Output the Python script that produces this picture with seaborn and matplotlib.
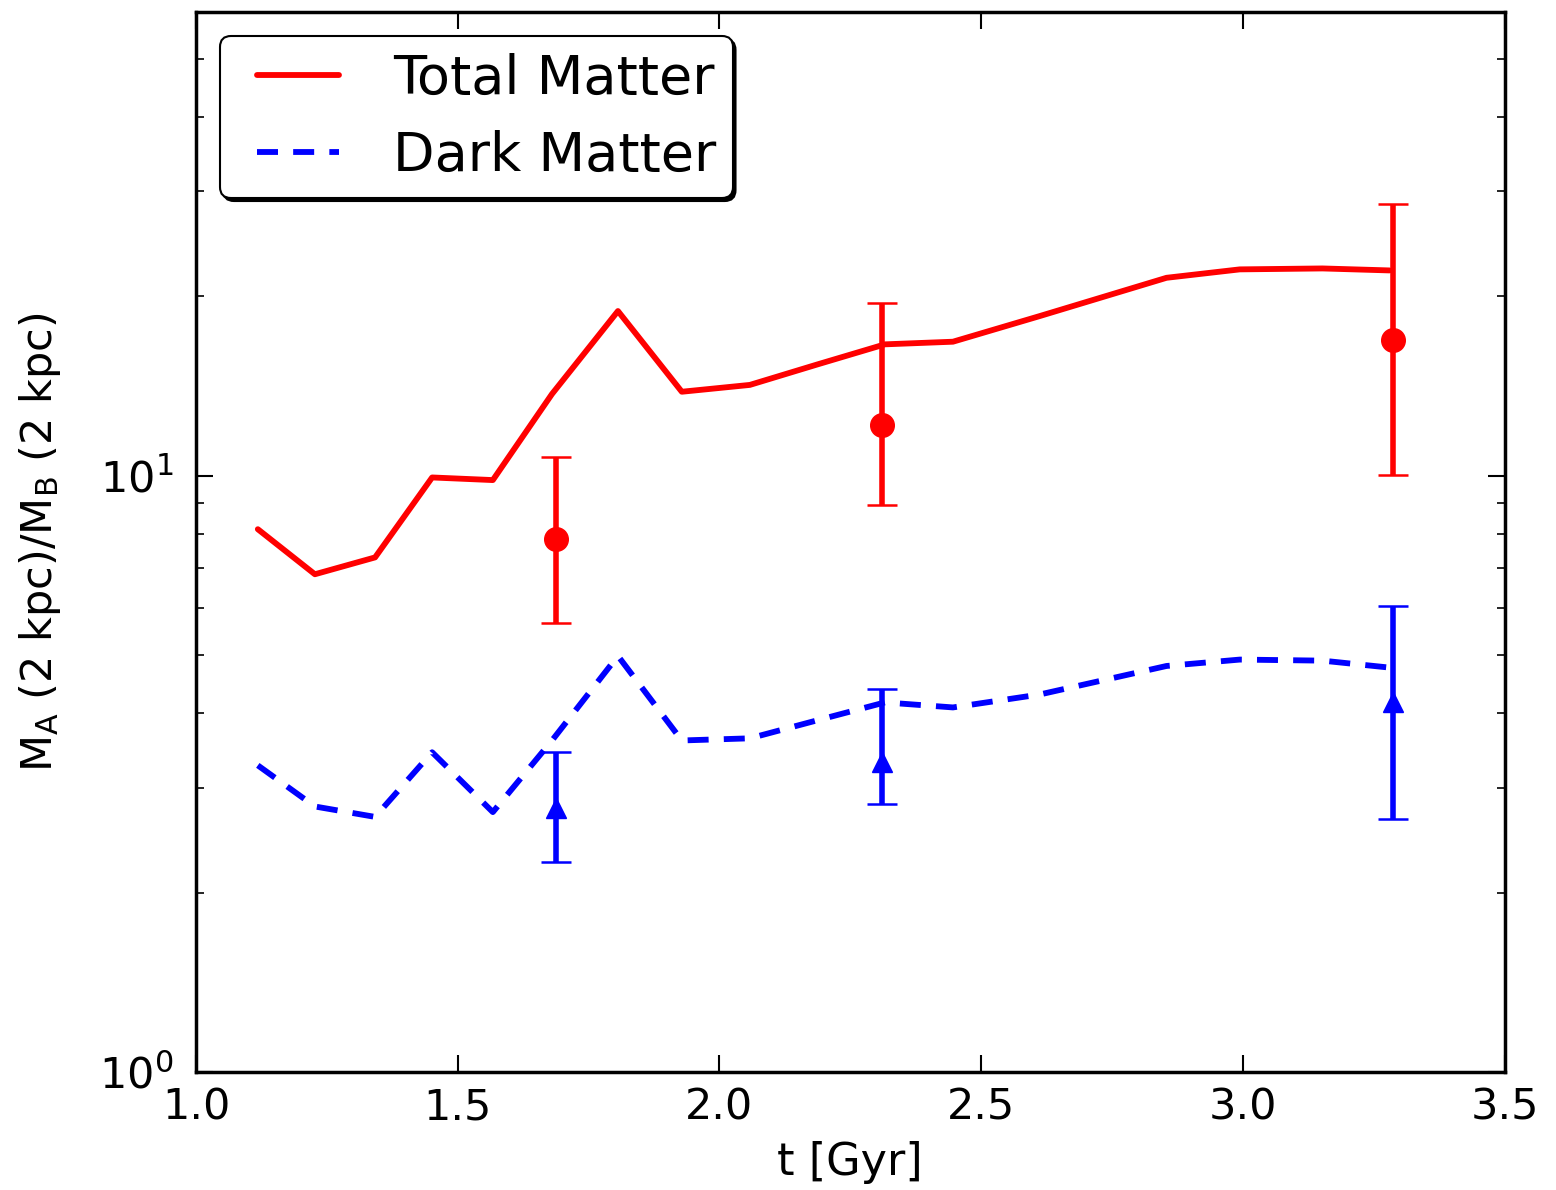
import numpy as np
import pandas as pd
import matplotlib
matplotlib.use("Agg")
import matplotlib.pyplot as plt
from matplotlib.lines import Line2D
from matplotlib.legend_handler import HandlerLine2D
import seaborn as sns

# ---- data ----
t_line = [1.118, 1.227, 1.342, 1.451, 1.567, 1.680, 1.806, 1.928, 2.058, 2.186,
          2.316, 2.446, 2.612, 2.854, 2.994, 3.152, 3.280]
total_matter = [8.14, 6.84, 7.30, 9.94, 9.84, 13.72, 18.90, 13.84, 14.21, 15.37,
                16.62, 16.79, 18.54, 21.49, 22.20, 22.28, 22.11]
dark_matter = [3.27, 2.79, 2.68, 3.44, 2.73, 3.60, 4.99, 3.60, 3.63, 3.89,
               4.17, 4.09, 4.30, 4.80, 4.92, 4.90, 4.77]

t_obs = [1.688, 2.310, 3.286]
tot_obs = [7.84, 12.17, 16.9]
tot_lo = [5.67, 8.94, 10.04]
tot_hi = [10.76, 19.5, 28.6]
dm_obs = [2.77, 3.31, 4.17]
dm_lo = [2.25, 2.82, 2.66]
dm_hi = [3.44, 4.40, 6.06]

sns.set_style("ticks")
plt.rcParams['font.family'] = ['DejaVu Sans']
plt.rcParams['mathtext.default'] = 'regular'
plt.rcParams['text.color'] = 'black'
plt.rcParams['axes.labelcolor'] = 'black'
plt.rcParams['xtick.color'] = 'black'
plt.rcParams['ytick.color'] = 'black'

fig = plt.figure(figsize=(15.56, 11.9), dpi=100)
ax = fig.add_axes([0.126, 0.099, 0.841, 0.891])

df = pd.DataFrame({"t": t_line, "Total Matter": total_matter, "Dark Matter": dark_matter})
sns.lineplot(data=df, x="t", y="Total Matter", ax=ax, color="#ff0000", lw=4.2,
             label="Total Matter", sort=False)
sns.lineplot(data=df, x="t", y="Dark Matter", ax=ax, color="#0000ff", lw=4.2,
             label="Dark Matter", sort=False, dashes=False)
ax.lines[-1].set_dashes((3.6, 2.6))

tot_obs_a = np.array(tot_obs)
dm_obs_a = np.array(dm_obs)
ax.errorbar(t_obs, tot_obs,
            yerr=[tot_obs_a - np.array(tot_lo), np.array(tot_hi) - tot_obs_a],
            fmt='o', color="#ff0000", ms=17, elinewidth=4, capsize=11, capthick=1.8)
ax.errorbar(t_obs, dm_obs,
            yerr=[dm_obs_a - np.array(dm_lo), np.array(dm_hi) - dm_obs_a],
            fmt='^', color="#0000ff", ms=15, elinewidth=4, capsize=11, capthick=1.8)

ax.set_yscale("log")
ax.set_xlim(1.0, 3.5)
ax.set_ylim(1, 60)
ax.set_xticks([1.0, 1.5, 2.0, 2.5, 3.0, 3.5])
ax.set_xticklabels(["1.0", "1.5", "2.0", "2.5", "3.0", "3.5"])

ax.set_xlabel("t [Gyr]", fontsize=32, labelpad=9)
ax.set_ylabel(r"M$_\mathrm{A}$ (2 kpc)/M$_\mathrm{B}$ (2 kpc)", fontsize=31, labelpad=26)

ax.tick_params(axis='both', which='major', direction='in', length=12, width=1.5,
               labelsize=31, top=True, right=True, pad=10, color='black')
ax.tick_params(axis='y', which='major', pad=16)
ax.tick_params(axis='both', which='minor', direction='in', length=6, width=1.2,
               top=True, right=True, color='black')
ax.tick_params(axis='x', which='minor', bottom=False, top=False)
for s in ax.spines.values():
    s.set_linewidth(2.5)
    s.set_color('black')
    s.set_visible(True)

handles, labels = ax.get_legend_handles_labels()
leg = ax.legend(handles[:2], labels[:2], loc="upper left", fontsize=39,
                frameon=True, fancybox=True, shadow={'color': 'black', 'alpha': 1.0},
                borderaxespad=0.45, handlelength=1.89, handletextpad=1.0,
                borderpad=0.3, labelspacing=0.47,
                handler_map={Line2D: HandlerLine2D(xpad=0.37)})
leg.get_frame().set_edgecolor('black')
leg.get_frame().set_linewidth(1.5)
leg.get_frame().set_alpha(1.0)

fig.savefig("out.png", dpi=100)
